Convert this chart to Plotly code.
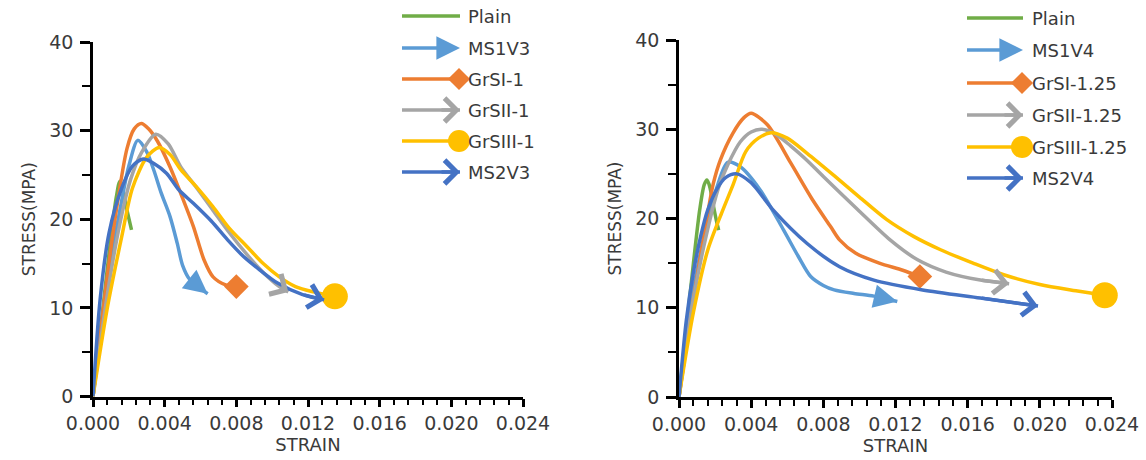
import plotly.graph_objects as go

# ---------------- data ----------------
# Left panel
L_plain_x = [0, 0.0005, 0.0010, 0.0013, 0.0015, 0.0017, 0.0019, 0.00215]
L_plain_y = [0, 9, 18, 22.5, 24.3, 23.0, 21.0, 18.8]

L_ms1_x = [0, 0.0008, 0.0015, 0.0020, 0.0025, 0.0030, 0.0034, 0.0038, 0.0043, 0.0047, 0.0050, 0.0054, 0.0064]
L_ms1_y = [0, 13, 21, 26, 28.9, 27.6, 25.5, 23, 20.3, 17.3, 14.8, 13.2, 11.6]

L_gr1_x = [0, 0.0007, 0.0013, 0.0019, 0.0023, 0.0027, 0.0031, 0.0036, 0.0043, 0.0049, 0.0056, 0.0062, 0.0067, 0.0074, 0.0080]
L_gr1_y = [0, 12, 21, 28, 30.2, 30.8, 30.2, 28.8, 25.9, 22.9, 19.2, 15.4, 13.5, 12.6, 12.4]

L_gr2_x = [0, 0.0008, 0.0015, 0.0021, 0.0027, 0.0035, 0.0042, 0.0049, 0.0058, 0.0067, 0.0076, 0.0086, 0.0095, 0.0104, 0.0109]
L_gr2_y = [0, 11.5, 19.5, 24.5, 27.5, 29.6, 28.5, 25.9, 23.5, 21.0, 18.5, 16.0, 14.0, 12.4, 11.8]

L_gr3_x = [0, 0.0008, 0.0016, 0.0022, 0.0030, 0.0037, 0.0043, 0.0049, 0.0058, 0.0067, 0.0076, 0.0086, 0.0095, 0.0104, 0.0113, 0.0123, 0.0135]
L_gr3_y = [0, 10, 18, 23.5, 27, 28.1, 27.3, 25.6, 23.6, 21.4, 19.0, 16.9, 15.0, 13.5, 12.4, 11.8, 11.3]

L_ms2_x = [0, 0.0004, 0.0009, 0.0016, 0.0022, 0.0028, 0.0034, 0.0041, 0.0048, 0.0056, 0.0066, 0.0075, 0.0084, 0.0093, 0.0103, 0.0117, 0.0129]
L_ms2_y = [0, 11, 18.5, 23.5, 26, 26.8, 26.3, 25.2, 23.3, 21.8, 19.8, 17.7, 15.8, 14.3, 12.8, 11.5, 10.9]

# Right panel
R_plain_x = [0, 0.0004, 0.0008, 0.00115, 0.0014, 0.00155, 0.0017, 0.0019, 0.0021, 0.0022]
R_plain_y = [0, 7.5, 15, 21, 23.8, 24.3, 23.6, 21.5, 19.5, 18.7]

R_ms1_x = [0, 0.0008, 0.0015, 0.0021, 0.0027, 0.0034, 0.0045, 0.0058, 0.0066, 0.0073, 0.0080, 0.0086, 0.0097, 0.0108, 0.0121]
R_ms1_y = [0, 12, 19, 23.5, 26.3, 25.8, 23.2, 18.7, 15.8, 13.5, 12.5, 12.0, 11.6, 11.3, 10.7]

R_gr1_x = [0, 0.0008, 0.0015, 0.0019, 0.0023, 0.0030, 0.0036, 0.0040, 0.0049, 0.0062, 0.0074, 0.0084, 0.0089, 0.0098, 0.0111, 0.0124, 0.01335]
R_gr1_y = [0, 11, 19.5, 23.9, 26.6, 29.6, 31.3, 31.8, 30.5, 26.2, 22.1, 19.1, 17.6, 16.1, 15.0, 14.2, 13.5]

R_gr2_x = [0, 0.0008, 0.0015, 0.0022, 0.0027, 0.0034, 0.0040, 0.0046, 0.0054, 0.0062, 0.0071, 0.0080, 0.0099, 0.0117, 0.0132, 0.0148, 0.0167, 0.0183]
R_gr2_y = [0, 11, 18, 23.5, 26, 28.6, 29.7, 30.0, 29.4, 28.1, 26.5, 24.7, 21.0, 17.6, 15.4, 14.0, 13.1, 12.7]

R_gr3_x = [0, 0.0008, 0.0016, 0.0024, 0.0030, 0.0037, 0.0044, 0.0051, 0.0060, 0.0071, 0.0086, 0.0100, 0.0115, 0.0130, 0.0145, 0.0163, 0.0180, 0.0200, 0.0220, 0.0236]
R_gr3_y = [0, 9.5, 16.5, 20.8, 23.8, 27.5, 29.0, 29.6, 29.0, 27.3, 24.8, 22.4, 19.9, 18.0, 16.5, 15.0, 13.7, 12.6, 11.9, 11.4]

R_ms2_x = [0, 0.0004, 0.0008, 0.0012, 0.0016, 0.0021, 0.0026, 0.0032, 0.0040, 0.0052, 0.0071, 0.0089, 0.0108, 0.0135, 0.0167, 0.0199]
R_ms2_y = [0, 8.5, 14, 18, 21, 23.3, 24.6, 25.0, 24.0, 21.0, 17.2, 14.6, 13.1, 12.0, 11.1, 10.2]

LEFT_NAMES = ["Plain", "MS1V3", "GrSI-1", "GrSII-1", "GrSIII-1", "MS2V3"]
RIGHT_NAMES = ["Plain", "MS1V4", "GrSI-1.25", "GrSII-1.25", "GrSIII-1.25", "MS2V4"]

X_TICKS = [0.000, 0.004, 0.008, 0.012, 0.016, 0.020, 0.024]
Y_TICKS = [0, 10, 20, 30, 40]

# ---------------- styling ----------------
COLORS = ["#70AD47", "#5B9BD5", "#ED7D31", "#A5A5A5", "#FFC000", "#4472C4"]
ENDS = ["none", "tri", "diamond", "open", "circle", "open"]
W, H = 1146, 460
LW = 3.5
FONT = "DejaVu Sans"
TXT = "#3a3a3a"

fig = go.Figure()
annotations = []

left_series = [(L_plain_x, L_plain_y), (L_ms1_x, L_ms1_y), (L_gr1_x, L_gr1_y),
               (L_gr2_x, L_gr2_y), (L_gr3_x, L_gr3_y), (L_ms2_x, L_ms2_y)]
right_series = [(R_plain_x, R_plain_y), (R_ms1_x, R_ms1_y), (R_gr1_x, R_gr1_y),
                (R_gr2_x, R_gr2_y), (R_gr3_x, R_gr3_y), (R_ms2_x, R_ms2_y)]


def add_panel(series, names, xa, ya):
    for (xs, ys), name, col, end in zip(series, names, COLORS, ENDS):
        fig.add_trace(go.Scatter(x=xs, y=ys, mode="lines", name=name,
                                 line=dict(color=col, width=LW, shape="spline", smoothing=0.8),
                                 xaxis=xa, yaxis=ya, showlegend=False))
        if end in ("diamond", "circle"):
            fig.add_trace(go.Scatter(x=[xs[-1]], y=[ys[-1]], mode="markers",
                                     marker=dict(symbol=end, size=19 if end == "diamond" else 26,
                                                 color=col, line=dict(width=0)),
                                     xaxis=xa, yaxis=ya, showlegend=False, cliponaxis=False))
        elif end in ("tri", "open"):
            annotations.append(dict(
                x=xs[-1], y=ys[-1], ax=xs[-2], ay=ys[-2],
                xref=xa, yref=ya, axref=xa, ayref=ya,
                showarrow=True, text="",
                arrowhead=2 if end == "tri" else 4,
                arrowsize=1.35 if end == "tri" else 1.3,
                arrowwidth=LW, arrowcolor=col, standoff=0))


add_panel(left_series, LEFT_NAMES, "x", "y")
add_panel(right_series, RIGHT_NAMES, "x2", "y2")

# ---------------- hand-made legends on a pixel-space helper axis ----------------
legend_specs = [
    (402, 460, 466, [16, 48, 79, 110, 141, 172], LEFT_NAMES),
    (967, 1023, 1030, [18, 50, 83, 115, 147, 178], RIGHT_NAMES),
]
for x0, x1, xt, rows, names in legend_specs:
    for yy, name, col, end in zip(rows, names, COLORS, ENDS):
        fig.add_trace(go.Scatter(x=[x0, x1 - (6 if end in ("tri",) else 0)], y=[yy, yy], mode="lines",
                                 line=dict(color=col, width=LW), xaxis="x3", yaxis="y3",
                                 showlegend=False, hoverinfo="skip"))
        if end in ("diamond", "circle"):
            fig.add_trace(go.Scatter(x=[x1 - 1], y=[yy], mode="markers",
                                     marker=dict(symbol=end, size=17 if end == "diamond" else 22,
                                                 color=col, line=dict(width=0)),
                                     xaxis="x3", yaxis="y3", showlegend=False, hoverinfo="skip"))
        elif end in ("tri", "open"):
            annotations.append(dict(
                x=x1, y=yy, ax=x1 - 20, ay=yy, xref="x3", yref="y3", axref="x3", ayref="y3",
                showarrow=True, text="", arrowhead=2 if end == "tri" else 4,
                arrowsize=1.35 if end == "tri" else 1.3, arrowwidth=LW, arrowcolor=col, standoff=0))
        annotations.append(dict(x=xt, y=yy, xref="x3", yref="y3", text=name, showarrow=False,
                                xanchor="left", yanchor="middle",
                                font=dict(family=FONT, size=18, color=TXT)))

# ---------------- axes ----------------
def xdom(a, b):
    return [a / W, b / W]


def ydom(top, bottom):
    return [(H - bottom) / H, (H - top) / H]


base_x = dict(range=[0, 0.024], tickvals=X_TICKS, tickformat=".3f", automargin=False,
              showline=True, linecolor="black", linewidth=2.5, showgrid=False, zeroline=False,
              ticks="outside", ticklen=8, tickwidth=2.5, tickcolor="black",
              minor=dict(dtick=0.0008, ticks="outside", ticklen=6, tickwidth=2, tickcolor="black", showgrid=False),
              tickfont=dict(family=FONT, size=19, color=TXT),
              title=dict(text="STRAIN", font=dict(family=FONT, size=18, color=TXT), standoff=0))
base_y = dict(range=[0, 40], tickvals=Y_TICKS, automargin=False,
              showline=True, linecolor="black", linewidth=2.5, showgrid=False, zeroline=False,
              ticks="outside", ticklen=10, tickwidth=2.5, tickcolor="black", ticklabelstandoff=3,
              minor=dict(dtick=5, ticks="outside", ticklen=8, tickwidth=2, tickcolor="black", showgrid=False),
              tickfont=dict(family=FONT, size=19, color=TXT),
              title=dict(text="STRESS(MPA)", font=dict(family=FONT, size=17, color=TXT), standoff=10))

inner_x = dict(range=[0, 0.024], tickvals=X_TICKS, showticklabels=False, showline=False, automargin=False,
               showgrid=False, zeroline=False, ticks="inside", ticklen=7, tickwidth=2.5, tickcolor="black")
inner_y = dict(range=[0, 40], tickvals=Y_TICKS, showticklabels=False, showline=False, automargin=False,
               showgrid=False, zeroline=False, ticks="inside", ticklen=7, tickwidth=2.5, tickcolor="black")

fig.update_layout(
    width=W, height=H, margin=dict(l=0, r=0, t=0, b=0, autoexpand=False),
    paper_bgcolor="white", plot_bgcolor="rgba(0,0,0,0)",
    showlegend=False,
    xaxis=dict(base_x, domain=xdom(93, 523), anchor="y"),
    yaxis=dict(base_y, domain=ydom(42, 396.5), anchor="x"),
    xaxis2=dict(base_x, domain=xdom(679, 1112), anchor="y2"),
    yaxis2=dict(base_y, domain=ydom(40, 397), anchor="x2"),
    xaxis3=dict(domain=[0, 1], range=[0, W], visible=False, anchor="y3", automargin=False),
    yaxis3=dict(domain=[0, 1], range=[H, 0], visible=False, anchor="x3", automargin=False),
    xaxis4=dict(inner_x, overlaying="x", anchor="y"),
    yaxis4=dict(inner_y, overlaying="y", anchor="x"),
    xaxis5=dict(inner_x, overlaying="x2", anchor="y2"),
    yaxis5=dict(inner_y, overlaying="y2", anchor="x2"),
    annotations=annotations,
)

fig.write_html("out.html")
